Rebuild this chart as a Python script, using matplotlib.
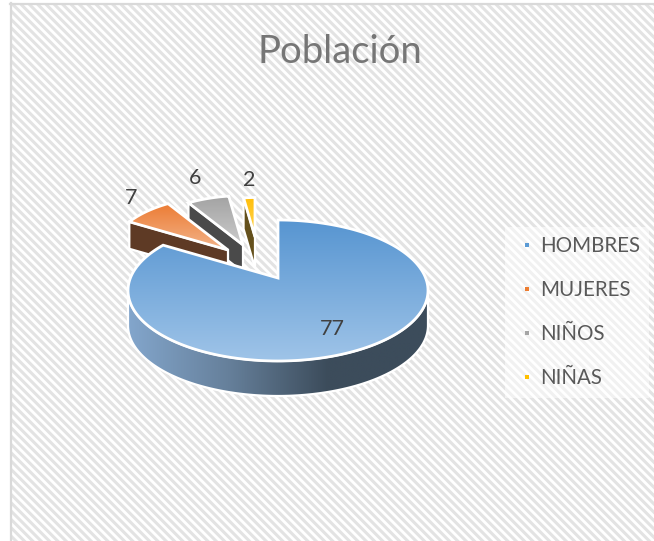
import numpy as np
import matplotlib
matplotlib.use("Agg")
import matplotlib.pyplot as plt
from matplotlib.colors import LinearSegmentedColormap
from matplotlib.lines import Line2D
from matplotlib.patches import Polygon, Rectangle

# ---- data ----
categories = ["HOMBRES", "MUJERES", "NIÑOS", "NIÑAS"]
values = [77, 7, 6, 2]
title = "Población"

# ---- style ----
top_colors = [("#5795d1", "#9fc4e8"), ("#ec7b33", "#f3b48a"),
              ("#a3a3a3", "#cbcbcb"), ("#ffbe0a", "#ffd75a")]
key_colors = ["#5b9bd5", "#ed7d31", "#a5a5a5", "#ffc000"]
side_colors = [None, "#5e3a25", "#4a4a4a", "#64501c"]
apexes = [(278, 278), (228, 250), (243, 245), (255, 237)]
centres = [(278, 290.5), (228, 250), (243, 245), (255, 237)]
scales = [1.0, 0.77, 0.70, 0.56]
depths = [35, 27, 27, 31]
label_pos = [(332, 329), (131, 198), (195, 178), (249, 180)]
RX, RY = 150.0, 70.5

fig = plt.figure(figsize=(6.54, 5.41), dpi=100, facecolor="white")
ax = fig.add_axes([0, 0, 1, 1])
ax.set_xlim(0, 654)
ax.set_ylim(541, 0)
ax.axis("off")

plt.rcParams["hatch.linewidth"] = 2.2
plt.rcParams["hatch.color"] = "#e3e3e3"
ax.add_patch(Rectangle((11, 4), 650, 545, facecolor="white", edgecolor="#e3e3e3",
                       hatch="\\\\\\\\", lw=0, zorder=0))
ax.plot([11, 11], [3, 541], color="#d9d9d9", lw=1.6, zorder=0.5)
ax.plot([10, 654], [4, 4], color="#d9d9d9", lw=1.6, zorder=0.5)


def rim_point(theta, i):
    """Where the ray at clock angle theta from the slice apex meets its ellipse."""
    ax0, ay0 = apexes[i]
    cx, cy = centres[i]
    rx, ry = RX * scales[i], RY * scales[i]
    dx, dy = np.sin(theta), -np.cos(theta)
    ox, oy = (ax0 - cx) / RX / scales[i], (ay0 - cy) / RY / scales[i]
    b = ox * dx + oy * dy
    c = ox * ox + oy * oy - 1
    t = -b + np.sqrt(b * b - c)
    return ax0 + t * rx * dx, ay0 + t * ry * dy


def gradient_fill(poly, colors, horizontal=False, z=1, extent=None):
    cmap = LinearSegmentedColormap.from_list("g", colors)
    arr = np.linspace(0, 1, 256)
    arr = arr[None, :] if horizontal else arr[:, None]
    x0, y0, x1, y1 = extent
    im = ax.imshow(arr, cmap=cmap, extent=(x0, x1, y1, y0), aspect="auto",
                   zorder=z, interpolation="bilinear")
    patch = Polygon(poly, closed=True, transform=ax.transData, fc="none", ec="none")
    ax.add_patch(patch)
    im.set_clip_path(patch)


angles = np.cumsum([0] + values) / sum(values) * 2 * np.pi

# back to front: smallest slice first, the large one last
for i in [3, 2, 1, 0]:
    z = 2 + (3 - i) * 2
    th = np.linspace(angles[i], angles[i + 1], 200)
    rim = np.array([rim_point(t, i) for t in th])
    top = np.vstack([[apexes[i]], rim])
    d = depths[i]
    if i == 0:
        cx, cy = centres[0]
        ph = np.linspace(np.pi, 0, 200)
        lower = np.c_[cx + RX * np.cos(ph), cy + RY * np.sin(ph)]
        side = np.vstack([lower, (lower + [0, d])[::-1]])
        gradient_fill(side, ["#83a6cc", "#66809b", "#3c4c5b", "#3c4c5b"], True, z,
                      (cx - RX, cy, cx + RX, cy + RY + d))
        ax.add_patch(Polygon(side, closed=True, fc="none", ec="white", lw=1.6, zorder=z + 0.2))
    else:
        outer = rim[0]
        apex = np.array(apexes[i], float)
        side = np.array([outer, apex, apex + [0, d], outer + [0, d]])
        ax.add_patch(Polygon(side, closed=True, fc=side_colors[i], ec="white", lw=1.6, zorder=z))
    ys = top[:, 1]
    xs = top[:, 0]
    gradient_fill(top, top_colors[i], False, z + 0.5, (xs.min(), ys.min(), xs.max(), ys.max()))
    ax.add_patch(Polygon(top, closed=True, fc="none", ec="white", lw=2.0, zorder=z + 0.7))

for (x, y), v in zip(label_pos, values):
    ax.text(x, y, str(v), ha="center", va="center", fontsize=15.5, color="#404040",
            family="Lato", zorder=20)

ax.text(340, 52, title, ha="center", va="center", fontsize=27.5, color="#767676",
        family="Lato", zorder=20)

handles = [Line2D([], [], ls="none", marker="s", ms=3, mfc=c, mec="white", mew=0)
           for c in key_colors]
leg = ax.legend(handles, categories, loc="upper left", bbox_to_anchor=(505, 227),
                bbox_transform=ax.transData, frameon=True, framealpha=0.5, facecolor="white",
                edgecolor="none", fancybox=False, labelspacing=1.17, handlelength=1.2,
                handletextpad=0.05, borderpad=0.45, borderaxespad=0,
                prop={"family": "Lato", "size": 14.8}, labelcolor="#595959")
leg.set_zorder(15)

fig.savefig("out.png", dpi=100)
